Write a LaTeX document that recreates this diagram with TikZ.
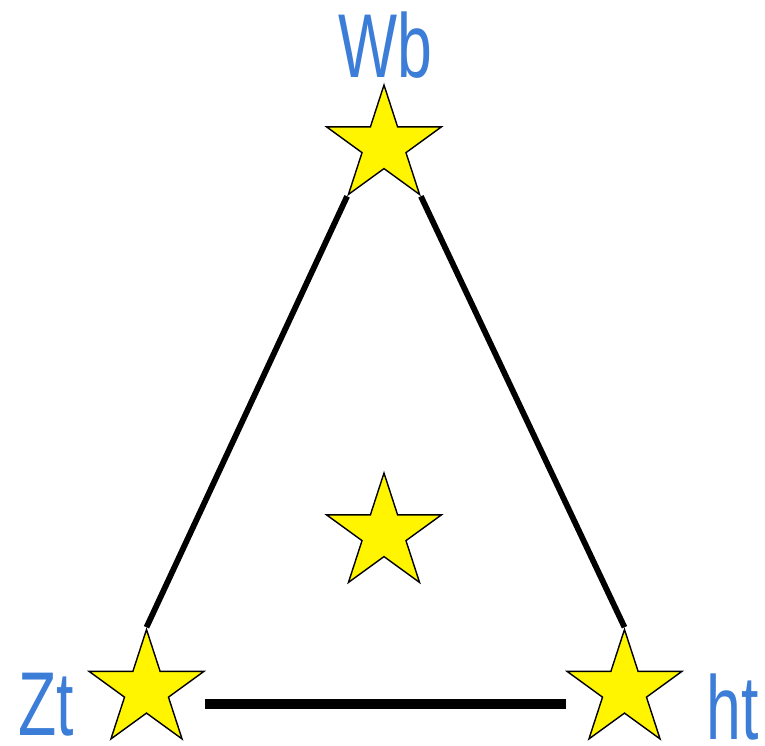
\documentclass[tikz,border=0pt]{standalone}
\usepackage{fontspec}
\setmainfont{Liberation Sans}
\usepackage{xcolor}
\definecolor{StarYellow}{RGB}{255,245,0}
\definecolor{LabelBlue}{RGB}{60,125,215}
\usetikzlibrary{shapes.geometric}
\newcommand{\lbltext}[1]{\scalebox{0.69}[1]{#1}}

\begin{document}
\begin{tikzpicture}[x=0.02cm, y=-0.02cm,
    st/.style={star, star points=5, star point ratio=2.618, draw=black, line width=0.8pt,
              fill=StarYellow, minimum size=2.42cm, inner sep=0pt},
    lb/.style={anchor=base, text=LabelBlue, inner sep=0pt,
              font=\fontsize{51.6pt}{60pt}\selectfont},
    ln/.style={line width=3.3pt, black}
]
    \useasboundingbox (0,0) rectangle (765,746);
    \node[st] (wb) at (384,145.5) {};
    \node[st] (mid) at (384,533.5) {};
    \node[st] (zt) at (146.5,690) {};
    \node[st] (ht) at (624.5,690) {};
    \node[lb] (wblabel) at (385,78) {\lbltext{Wb}};
    \node[lb] (ztlabel) at (46,736) {\lbltext{Zt}};
    \node[lb] (htlabel) at (733,740) {\lbltext{ht}};
    \draw[ln] (wb.outer point 3) -- (zt.outer point 1);
    \draw[ln] (wb.outer point 4) -- (ht.outer point 1);
    \draw[ln, line width=5.5pt] ([xshift=1.17cm, yshift=-0.28cm]zt.center) -- ([xshift=-1.17cm, yshift=-0.28cm]ht.center);
\end{tikzpicture}
\end{document}
